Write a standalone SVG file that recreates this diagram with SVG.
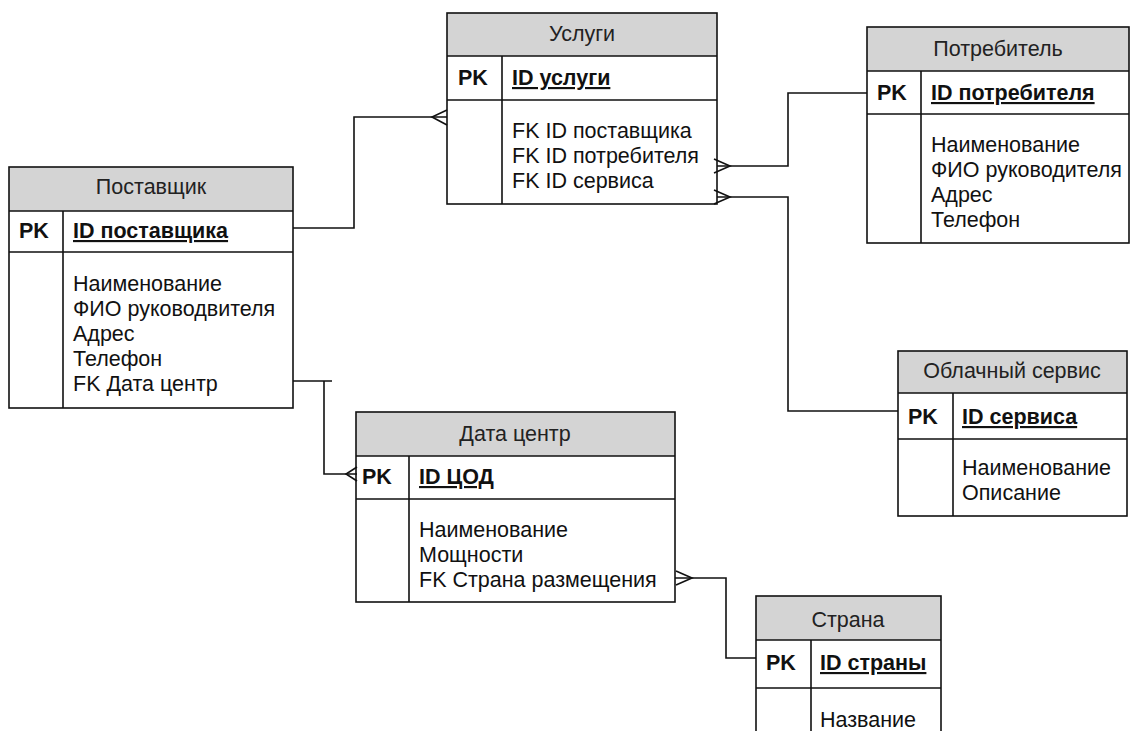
<svg xmlns="http://www.w3.org/2000/svg" width="1130" height="731" viewBox="0 0 1130 731">
  <style>
    text { font-family: "Liberation Sans", Arial, sans-serif; font-size: 21.5px; fill: #111; }
    .hdr { fill: #d4d4d4; stroke: none; }
    .box { fill: none; stroke: #111; stroke-width: 1.6; }
    .ln { stroke: #111; stroke-width: 1.6; fill: none; }
    .title { text-anchor: middle; fill: #222; }
    .pk { font-weight: bold; }
    .key { font-weight: bold; text-decoration: underline; }
    .wire { stroke: #111; stroke-width: 1.6; fill: none; }
  </style>

  <rect width="1130" height="731" fill="#ffffff"/>

  <!-- Услуги -->
  <g id="uslugi">
    <rect class="hdr" x="447" y="13" width="270" height="43"/>
    <rect x="447" y="56" width="270" height="148" fill="#fff"/>
    <rect class="box" x="447" y="13" width="270" height="191"/>
    <path class="ln" d="M447,56 H717 M447,100 H717 M502,56 V204"/>
    <text class="title" x="582" y="41">Услуги</text>
    <text class="pk" x="458" y="85">PK</text>
    <text class="key" x="512" y="85">ID услуги</text>
    <text x="512" y="138">FK ID поставщика</text>
    <text x="512" y="163">FK ID потребителя</text>
    <text x="512" y="188">FK ID сервиса</text>
  </g>

  <!-- Потребитель -->
  <g id="potrebitel">
    <rect class="hdr" x="867" y="27" width="262" height="44"/>
    <rect x="867" y="71" width="262" height="172" fill="#fff"/>
    <rect class="box" x="867" y="27" width="262" height="216"/>
    <path class="ln" d="M867,71 H1129 M867,114 H1129 M921,71 V243"/>
    <text class="title" x="998" y="56">Потребитель</text>
    <text class="pk" x="877" y="100">PK</text>
    <text class="key" x="931" y="100">ID потребителя</text>
    <text x="931" y="152">Наименование</text>
    <text x="931" y="177">ФИО руководителя</text>
    <text x="931" y="202">Адрес</text>
    <text x="931" y="227">Телефон</text>
  </g>

  <!-- Поставщик -->
  <g id="postavshik">
    <rect class="hdr" x="9" y="167" width="284" height="44"/>
    <rect x="9" y="211" width="284" height="197" fill="#fff"/>
    <rect class="box" x="9" y="167" width="284" height="241"/>
    <path class="ln" d="M9,211 H293 M9,252 H293 M63,211 V408"/>
    <text class="title" x="151" y="194">Поставщик</text>
    <text class="pk" x="19" y="238">PK</text>
    <text class="key" x="73" y="238">ID поставщика</text>
    <text x="73" y="291">Наименование</text>
    <text x="73" y="316">ФИО руководвителя</text>
    <text x="73" y="341">Адрес</text>
    <text x="73" y="366">Телефон</text>
    <text x="73" y="391">FK Дата центр</text>
  </g>

  <!-- Дата центр -->
  <g id="datacenter">
    <rect class="hdr" x="356" y="412" width="319" height="44"/>
    <rect x="356" y="456" width="319" height="146" fill="#fff"/>
    <rect class="box" x="356" y="412" width="319" height="190"/>
    <path class="ln" d="M356,456 H675 M356,499 H675 M409,456 V602"/>
    <text class="title" x="515" y="441">Дата центр</text>
    <text class="pk" x="362" y="484">PK</text>
    <text class="key" x="419" y="484">ID ЦОД</text>
    <text x="419" y="537">Наименование</text>
    <text x="419" y="562">Мощности</text>
    <text x="419" y="587">FK Страна размещения</text>
  </g>

  <!-- Облачный сервис -->
  <g id="oblachny-servis">
    <rect class="hdr" x="898" y="351" width="229" height="42"/>
    <rect x="898" y="393" width="229" height="123" fill="#fff"/>
    <rect class="box" x="898" y="351" width="229" height="165"/>
    <path class="ln" d="M898,393 H1127 M898,439 H1127 M953,393 V516"/>
    <text class="title" x="1012" y="378">Облачный сервис</text>
    <text class="pk" x="908" y="424">PK</text>
    <text class="key" x="962" y="424">ID сервиса</text>
    <text x="962" y="475">Наименование</text>
    <text x="962" y="500">Описание</text>
  </g>

  <!-- Страна -->
  <g id="strana">
    <rect class="hdr" x="756" y="596" width="185" height="44"/>
    <rect x="756" y="640" width="185" height="120" fill="#fff"/>
    <rect class="box" x="756" y="596" width="185" height="164"/>
    <path class="ln" d="M756,640 H941 M756,688 H941 M811,640 V760"/>
    <text class="title" x="848" y="627">Страна</text>
    <text class="pk" x="766" y="670">PK</text>
    <text class="key" x="820" y="670">ID страны</text>
    <text x="820" y="727">Название</text>
  </g>

  <!-- Связи между таблицами -->
  <g id="connectors">
    <!-- Поставщик → Услуги -->
    <path class="wire" d="M293,228 H354 V117 H447"/>
    <path class="wire" d="M447,110 L432,117 L447,125"/>
    <!-- Услуги → Потребитель -->
    <path class="wire" d="M717,166 H788 V93 H867"/>
    <path class="wire" d="M714,159 L730,166 L714,173"/>
    <!-- Услуги → Облачный сервис -->
    <path class="wire" d="M717,197 H788 V411 H898"/>
    <path class="wire" d="M714,190 L730,197 L714,204"/>
    <!-- Поставщик → Дата центр -->
    <path class="wire" d="M293,381 H332 M324,381 V474 H357"/>
    <path class="wire" d="M357,467 L346,474 L357,481"/>
    <!-- Дата центр → Страна -->
    <path class="wire" d="M675,578 H726 V658 H756"/>
    <path class="wire" d="M676,571 L692,578 L676,585"/>
  </g>
</svg>
